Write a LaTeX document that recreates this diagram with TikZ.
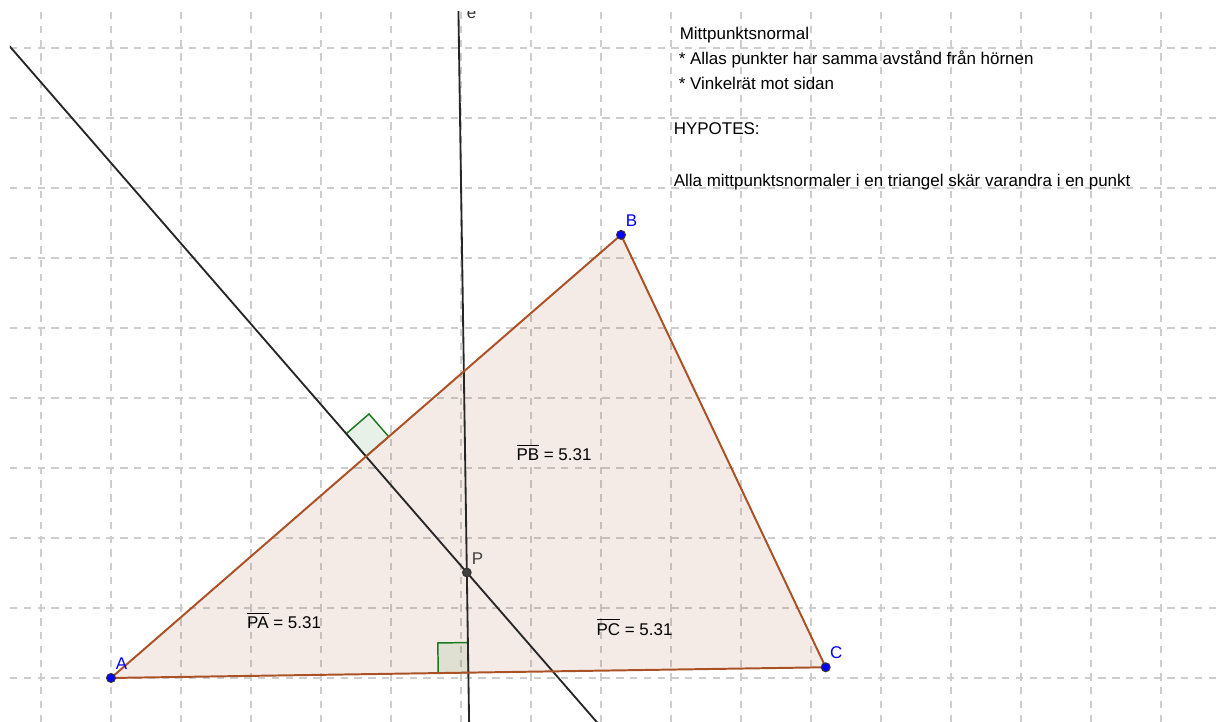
\documentclass[tikz,border=0pt]{standalone}
\usepackage{fontspec}
\setmainfont{Liberation Sans}
\usepackage{tikz}
\usetikzlibrary{calc}
\usepackage{tkz-euclide}

\definecolor{polybrown}{RGB}{160,62,14}
\definecolor{anglegreen}{RGB}{30,120,30}
\definecolor{gridgray}{RGB}{205,205,205}
\definecolor{pointgray}{RGB}{64,64,64}

\begin{document}
\begin{tikzpicture}[font=\fontsize{6.9}{8}\selectfont,
    gridline/.style={gridgray, line width=0.55pt, dash pattern=on 3pt off 2.6pt},
    mediator/.style={black!85, line width=0.75pt},
    rangle/.style={draw=anglegreen, line width=0.6pt, fill=anglegreen, fill opacity=0.1, draw opacity=1},
    freept/.style={fill=blue, draw=black!80, line width=0.4pt},
    centrept/.style={fill=pointgray, draw=black!80, line width=0.4pt},
    ptlabel/.style={inner sep=0pt, xshift=4.3pt, yshift=5.8pt},
    textline/.style={anchor=base west, inner sep=0pt}]
          % --- 1. canvas and the visible window ---
          \useasboundingbox (-1.5857,-0.6286) rectangle (15.8429,9.6857);
          \def\xL{-1.443}
          \def\xR{15.843}
          \def\yB{-0.629}
          \def\yT{9.514}

          % --- 2. vertices A, B, C and circumcentre P ---
          \tkzDefPoint(0,0){A}
          \tkzDefPoint(7.286,6.33){B}
          \tkzDefPoint(10.21,0.153){C}
          \tkzDefTriangleCenter[circum](A,B,C) \tkzGetPoint{P}

          % --- 3. midpoints of AB and AC ---
          \tkzDefMidPoint(A,B) \tkzGetPoint{M_AB}
          \tkzDefMidPoint(A,C) \tkzGetPoint{M_AC}

          \begin{scope}
          \clip (\xL,\yB) rectangle (\xR,\yT);

          % --- 4. dashed grid ---
          \foreach \x in {-1,...,15}
            \draw[gridline] (\x,\yT) -- (\x,\yB);
          \foreach \y in {0,...,9}
            \draw[gridline] (\xL,\y) -- (\xR,\y);

          % --- 5. triangle ABC (fill) ---
          \fill[polybrown, fill opacity=0.1] (A) -- (B) -- (C) -- cycle;

          % --- 6. right angle marks at the midpoints ---
          \coordinate (ab_u) at ($(M_AB)!0.43cm!(B)$);
          \coordinate (ab_v) at ($(M_AB)!0.43cm!90:(B)$);
          \filldraw[rangle] (M_AB) -- (ab_u) -- ($(ab_u)+(ab_v)-(M_AB)$) -- (ab_v) -- cycle;
          \coordinate (ac_u) at ($(M_AC)!0.43cm!(A)$);
          \coordinate (ac_v) at ($(M_AC)!0.43cm!-90:(A)$);
          \filldraw[rangle] (M_AC) -- (ac_u) -- ($(ac_u)+(ac_v)-(M_AC)$) -- (ac_v) -- cycle;

          % --- 7. perpendicular bisectors of AB and AC ---
          \draw[mediator] ($(M_AB)!20cm!90:(B)$) -- ($(M_AB)!20cm!-90:(B)$);
          \draw[mediator] ($(M_AC)!20cm!90:(C)$) -- ($(M_AC)!20cm!-90:(C)$);
          \node[inner sep=0pt, black!80] (e_lab) at (5.15,9.49) {e};

          % --- 8. sides of the triangle ---
          \draw[polybrown!90!white, line width=0.8pt, line join=round] (A) -- (B) -- (C) -- cycle;
          \end{scope}

          % --- 9. points and labels ---
          \filldraw[freept] (A) circle (0.064);
          \filldraw[freept] (B) circle (0.064);
          \filldraw[freept] (C) circle (0.064);
          \filldraw[centrept] (P) circle (0.062);

          \node[ptlabel, blue] (A_lab) at (A) {A};
          \node[ptlabel, blue] (B_lab) at (B) {B};
          \node[ptlabel, blue] (C_lab) at (C) {C};
          \node[ptlabel, pointgray] (P_lab) at (P) {P};

          % --- 10. distances ---
          \node[anchor=west, inner sep=0pt] (PA_lab) at (1.939,0.829) {\(\overline{\hbox{PA}}\) = 5.31};
          \node[anchor=west, inner sep=0pt] (PB_lab) at (5.786,3.229) {\(\overline{\hbox{PB}}\) = 5.31};
          \node[anchor=west, inner sep=0pt] (PC_lab) at (6.929,0.729) {\(\overline{\hbox{PC}}\) = 5.31};

          % --- 11. text block ---
          \node[textline] (title) at (8.119,9.124) {Mittpunktsnormal};
          \node[textline] (prop1) at (8.104,8.767) {* Allas punkter har samma avstånd från hörnen};
          \node[textline] (prop2) at (8.104,8.410) {* Vinkelrät mot sidan};
          \node[textline] (hyp) at (8.033,7.757) {HYPOTES:};
          \node[textline] (hyptext) at (8.033,7.019) {Alla mittpunktsnormaler i en triangel skär varandra i en punkt};

      \end{tikzpicture}
\end{document}
